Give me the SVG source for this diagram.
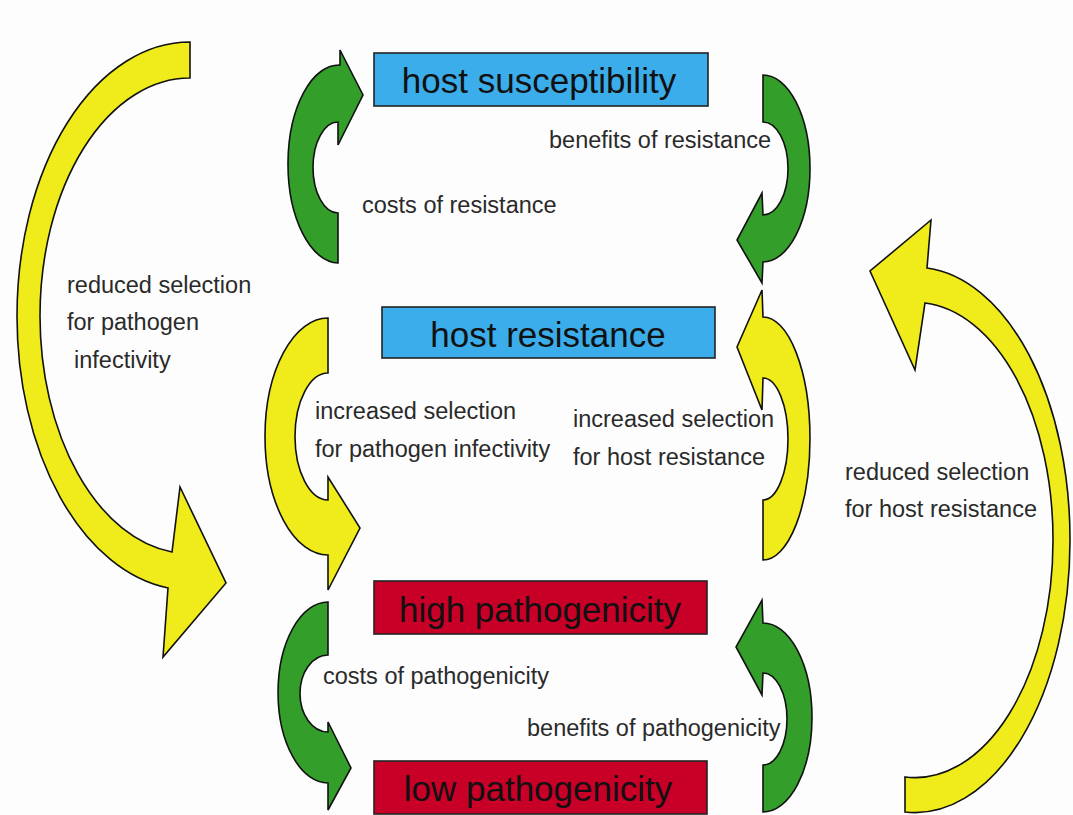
<svg xmlns="http://www.w3.org/2000/svg" width="1073" height="815" viewBox="0 0 1073 815">
  <style>
    .g { fill: #349e2b; stroke: #111; stroke-width: 1.6; stroke-linejoin: miter; }
    .y { fill: #f0eb1b; stroke: #111; stroke-width: 1.6; stroke-linejoin: miter; }
    .blue { fill: #3badea; stroke: #222; stroke-width: 1.6; }
    .red { fill: #c80028; stroke: #222; stroke-width: 1.6; }
    .box { font-family: "Liberation Sans", Arial, sans-serif; font-size: 35px; fill: #111; text-anchor: middle; }
    .lbl { font-family: "Liberation Sans", Arial, sans-serif; font-size: 23.5px; fill: #2a2a2a; }
  </style>
  <rect x="0" y="0" width="1073" height="815" fill="#fdfdfd"/>

  <g id="connectors">
    <!-- costs of resistance -->
    <path id="arrow-costs-resistance" class="g" d="M338,263 A51,99 0 0 1 340,65 L340,50 L363,95 L338,145 L338,122 A25,45.5 0 0 0 338,213 Z"/>
    <!-- benefits of resistance -->
    <path id="arrow-benefits-resistance" class="g" d="M763,75 A47,93.5 0 0 1 763,262 L762,283 L737,240 L762,193 L763,215 A25,46.5 0 0 0 763,122 Z"/>
    <!-- increased selection for pathogen infectivity -->
    <path id="arrow-inc-path" class="y" d="M328,318 A63,118.5 0 0 0 328,555 L328,590 L360,528 L328,477 L328,500 A33,63.5 0 0 1 328,373 Z"/>
    <!-- increased selection for host resistance -->
    <path id="arrow-inc-host" class="y" d="M763,560 A47,121.5 0 0 0 763,317 L762,290 L737,347 L762,410 L763,378 A25,61 0 0 1 763,500 Z"/>
    <!-- costs of pathogenicity -->
    <path id="arrow-costs-path" class="g" d="M328,602 A50,90.5 0 0 0 328,783 L328,810 L351,768 L328,722 L328,732 A28,38.5 0 0 1 328,655 Z"/>
    <!-- benefits of pathogenicity -->
    <path id="arrow-benefits-path" class="g" d="M763,812 A49,94.5 0 0 0 763,623 L762,600 L736,647 L762,695 L763,673 A24,46 0 0 1 763,765 Z"/>
    <!-- reduced selection for pathogen infectivity -->
    <path id="arrow-red-path" class="y" d="M190,42 A173,274 0 0 0 17,316 A173,274 0 0 0 168,588 L163,657 L226,583 L180,487 L172,552 A150,238 0 0 1 40,316 A150,238 0 0 1 190,78 Z"/>
    <!-- reduced selection for host resistance -->
    <path id="arrow-red-host" class="y" d="M905,812 A155,272 0 0 0 1070,540 A155,272 0 0 0 927,268 L931,220 L870,271 L915,370 L925,303 A138,237 0 0 1 1053,540 A138,237 0 0 1 905,777 Z"/>
  </g>

  <g id="node-host-susceptibility">
    <rect class="blue" x="374" y="53" width="334" height="53"/>
    <text class="box" x="539" y="93">host susceptibility</text>
  </g>
  <g id="node-host-resistance">
    <rect class="blue" x="382" y="307" width="333" height="51"/>
    <text class="box" x="548" y="347">host resistance</text>
  </g>
  <g id="node-high-pathogenicity">
    <rect class="red" x="374" y="581" width="333" height="53"/>
    <text class="box" x="540" y="622">high pathogenicity</text>
  </g>
  <g id="node-low-pathogenicity">
    <rect class="red" x="374" y="761" width="333" height="53"/>
    <text class="box" x="538" y="801">low pathogenicity</text>
  </g>

  <g id="labels">
    <text class="lbl" x="549" y="148">benefits of resistance</text>
    <text class="lbl" x="362" y="213">costs of resistance</text>
    <text class="lbl" x="67" y="293">reduced selection</text>
    <text class="lbl" x="67" y="330">for pathogen</text>
    <text class="lbl" x="74" y="368">infectivity</text>
    <text class="lbl" x="315" y="419">increased selection</text>
    <text class="lbl" x="315" y="457">for pathogen infectivity</text>
    <text class="lbl" x="573" y="427">increased selection</text>
    <text class="lbl" x="573" y="465">for host resistance</text>
    <text class="lbl" x="845" y="480">reduced selection</text>
    <text class="lbl" x="845" y="517">for host resistance</text>
    <text class="lbl" x="323" y="684">costs of pathogenicity</text>
    <text class="lbl" x="527" y="736">benefits of pathogenicity</text>
  </g>
</svg>
